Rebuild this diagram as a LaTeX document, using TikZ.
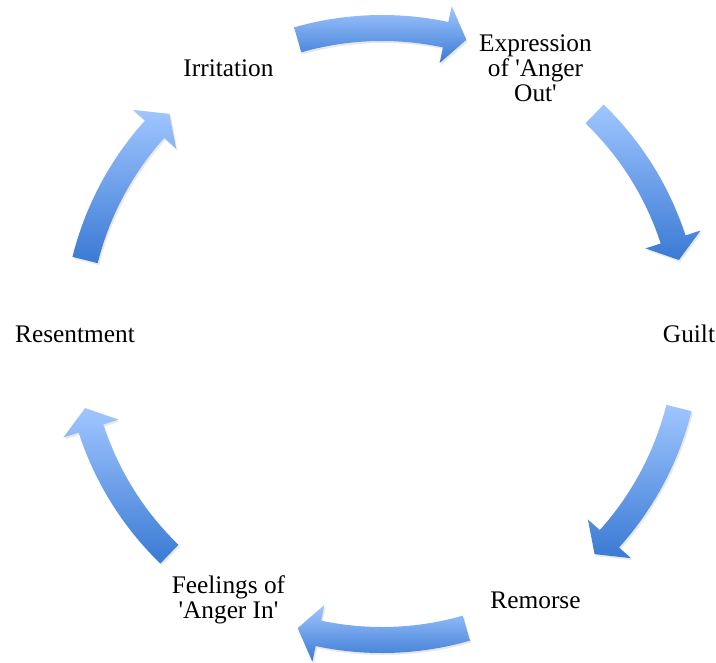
\documentclass[tikz,border=0pt]{standalone}
\usepackage{fontspec}
\setmainfont{Liberation Serif}
\usepackage{tikz}
\usetikzlibrary{shadows}

\definecolor{arrowlight}{RGB}{160,198,255}
\definecolor{arrowdark}{RGB}{58,122,212}

\tikzset{
  cyclearrow/.style={top color=arrowlight, bottom color=arrowdark, draw=none,
    drop shadow={opacity=0.18, shadow xshift=1pt, shadow yshift=-1.5pt}},
  cycletext/.style={font=\fontsize{19}{19}\selectfont, align=center, text=black}
}

\begin{document}
\begin{tikzpicture}[x=0.75pt, y=0.75pt]
    \useasboundingbox (0,0) rectangle (716,662);
    \begin{scope}[shift={(382,328)}]
        % Stages
        \node[cycletext] (irritation) at (120:307) {Irritation};
        \node[cycletext] (expression) at (60:307) {Expression\\of \textquotesingle Anger\\Out\textquotesingle};
        \node[cycletext] (guilt) at (0:307) {Guilt};
        \node[cycletext] (remorse) at (-60:307) {Remorse};
        \node[cycletext] (feelings) at (-120:307) {Feelings of\\\textquotesingle Anger In\textquotesingle};
        \node[cycletext] (resentment) at (180:307) {Resentment};

        % Arrows
        \foreach \a in {90,30,-30,-90,-150,150} {
            \path[cyclearrow] ({\a+16}:319) arc[start angle={\a+16}, end angle={\a-12}, radius=319]
                -- ({\a-12}:335) -- ({\a-16}:306) -- ({\a-12}:277) -- ({\a-12}:293)
                arc[start angle={\a-12}, end angle={\a+16}, radius=293] -- cycle;
        }
    \end{scope}
\end{tikzpicture}
\end{document}
